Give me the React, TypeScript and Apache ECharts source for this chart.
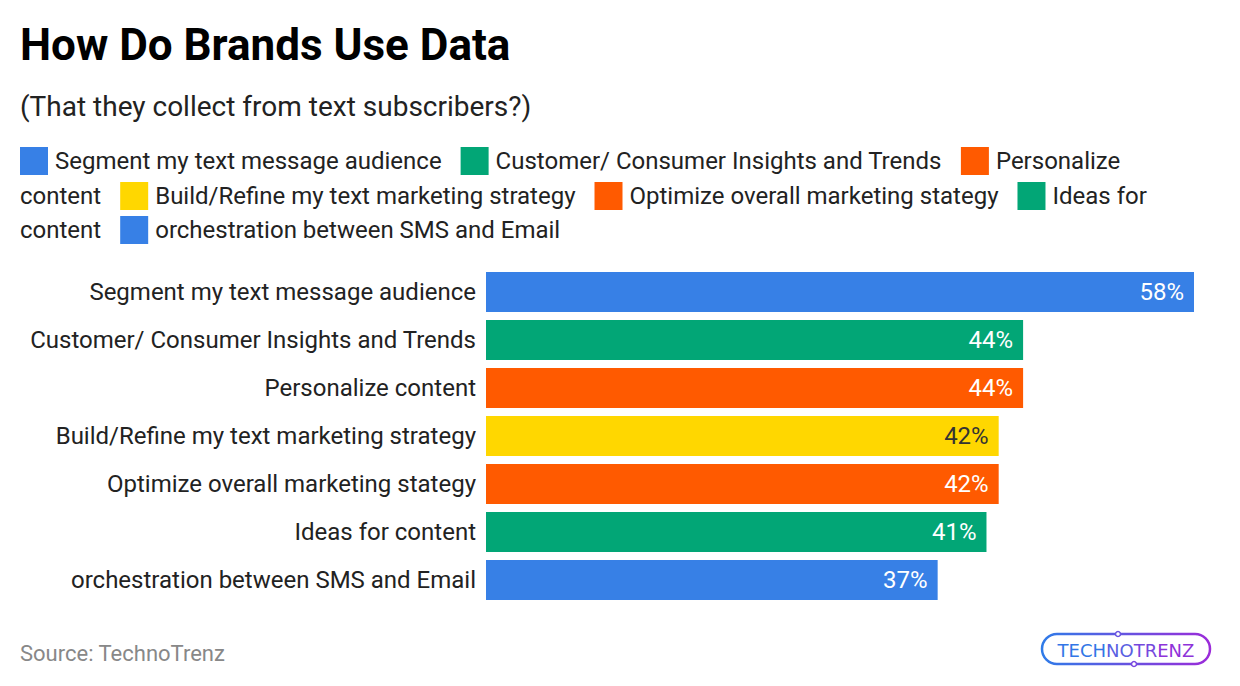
import React, { useEffect, useRef } from "react";
import * as echarts from "echarts";

const categories: string[] = [
  "Segment my text message audience",
  "Customer/ Consumer Insights and Trends",
  "Personalize content",
  "Build/Refine my text marketing strategy",
  "Optimize overall marketing stategy",
  "Ideas for content",
  "orchestration between SMS and Email",
];
const values: number[] = [58, 44, 44, 42, 42, 41, 37];
const palette: string[] = ["#3780E6", "#02A676", "#FF5A00", "#FFD700", "#FF5A00", "#02A676", "#3780E6"];
const labelColors: string[] = ["#ffffff", "#ffffff", "#ffffff", "#333333", "#ffffff", "#ffffff", "#ffffff"];

const TITLE = "How Do Brands Use Data";
const SUBTITLE = "(That they collect from text subscribers?)";
const SOURCE = "Source: TechnoTrenz";
const FONT = "Roboto, 'Noto Sans', sans-serif";
const LEGEND_FONT = `24px ${FONT}`;

function buildLegend(): any[] {
  const els: any[] = [];
  const canvas = document.createElement("canvas");
  const ctx = canvas.getContext("2d")!;
  ctx.font = LEGEND_FONT;
  const mw = (s: string) => ctx.measureText(s).width;
  const lineY = [161, 196, 230];
  const left = 20;
  const maxX = 1176;
  let x = left;
  let line = 0;
  const emit = (txt: string, tx: number) => {
    els.push({
      type: "text",
      x: tx,
      y: lineY[line],
      style: { text: txt, font: LEGEND_FONT, fill: "#222222", verticalAlign: "middle", align: "left" },
    });
  };
  categories.forEach((name, i) => {
    const words = name.split(" ");
    if (x + 28 + 7 + mw(words[0]) > maxX) {
      line++;
      x = left;
    }
    els.push({
      type: "rect",
      shape: { x, y: lineY[line] - 14, width: 28, height: 28 },
      style: { fill: palette[i] },
    });
    x += 28 + 7;
    let seg = "";
    let segX = x;
    words.forEach((w) => {
      if (seg === "") {
        seg = w;
        return;
      }
      const cand = seg + " " + w;
      if (segX + mw(cand) > maxX) {
        emit(seg, segX);
        line++;
        segX = left;
        seg = w;
      } else {
        seg = cand;
      }
    });
    emit(seg, segX);
    x = segX + mw(seg) + 19;
  });
  return els;
}

function buildLogo(): any {
  const strokeGrad = new echarts.graphic.LinearGradient(0, 0, 1, 0, [
    { offset: 0, color: "#2F7BE8" },
    { offset: 1, color: "#9B2BD9" },
  ]);
  const logoFont = `18px 'DejaVu Sans', sans-serif`;
  return {
    type: "group",
    x: 1042,
    y: 634,
    children: [
      {
        type: "rect",
        shape: { x: 0, y: 0, width: 168, height: 30, r: 15 },
        style: { fill: "none", stroke: strokeGrad, lineWidth: 2.5 },
      },
      {
        type: "text",
        x: 84,
        y: 16,
        style: {
          text: "{a|TECH}{b|NO}{c|TR}{d|ENZ}",
          font: logoFont,
          align: "center",
          verticalAlign: "middle",
          rich: {
            a: { fill: "#3276E6", font: logoFont },
            b: { fill: "#5A5FE2", font: logoFont },
            c: { fill: "#7548DD", font: logoFont },
            d: { fill: "#8E33D9", font: logoFont },
          },
        },
      },
      { type: "circle", shape: { cx: 76, cy: 0, r: 2.5 }, style: { fill: "#fff", stroke: "#6a55e0", lineWidth: 1.5 } },
      { type: "circle", shape: { cx: 92, cy: 30, r: 2.5 }, style: { fill: "#fff", stroke: "#7a48e0", lineWidth: 1.5 } },
    ],
  };
}

export default function App() {
  const ref = useRef<HTMLDivElement>(null);
  useEffect(() => {
    document.body.style.margin = "0";
    if (!ref.current) return;
    const chart = echarts.init(ref.current, null, { renderer: "svg" });
    const series = categories.map((name, i) => ({
      type: "bar",
      name,
      stack: "all",
      barWidth: 40,
      data: categories.map((_, j) => (j === i ? values[i] : "-")),
      itemStyle: { color: palette[i] },
      label: {
        show: true,
        position: "insideRight",
        distance: 10,
        formatter: "{c}%",
        color: labelColors[i],
        fontSize: 24,
        fontFamily: FONT,
      },
    }));
    chart.setOption({
      animation: false,
      backgroundColor: "#ffffff",
      textStyle: { fontFamily: FONT },
      grid: { left: 486, right: 46, top: 268, bottom: 82, containLabel: false },
      xAxis: {
        type: "value",
        min: 0,
        max: 58,
        show: false,
      },
      yAxis: {
        type: "category",
        data: categories,
        inverse: true,
        axisLine: { show: false },
        axisTick: { show: false },
        axisLabel: { fontSize: 24, color: "#222222", margin: 10, fontFamily: FONT },
      },
      series,
      graphic: [
        {
          type: "text",
          x: 20,
          y: 45,
          style: { text: TITLE, font: `bold 44px ${FONT}`, fill: "#000000", verticalAlign: "middle" },
        },
        {
          type: "text",
          x: 20,
          y: 106,
          style: { text: SUBTITLE, font: `28px ${FONT}`, fill: "#222222", verticalAlign: "middle" },
        },
        ...buildLegend(),
        {
          type: "text",
          x: 20,
          y: 653,
          style: { text: SOURCE, font: `22px ${FONT}`, fill: "#888888", verticalAlign: "middle" },
        },
        buildLogo(),
      ],
    });
    return () => chart.dispose();
  }, []);
  return <div ref={ref} style={{ width: 1240, height: 686 }} />;
}
